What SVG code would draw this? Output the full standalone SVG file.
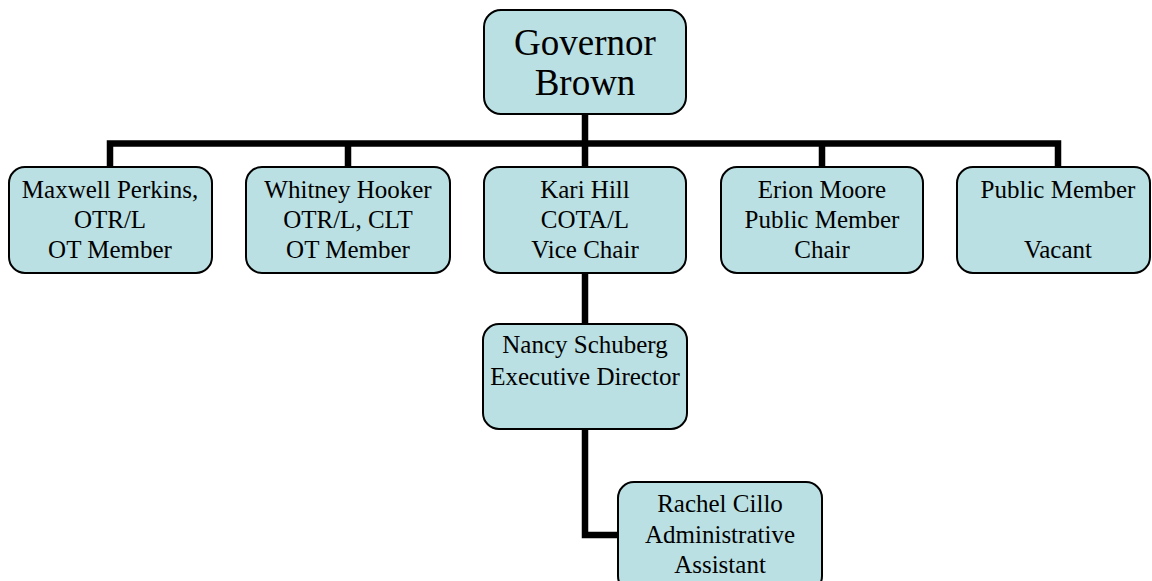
<svg xmlns="http://www.w3.org/2000/svg" width="1152" height="581" viewBox="0 0 1152 581">
<style>
.box{fill:#BAE0E3;stroke:#000;stroke-width:2}
.t{font-family:"Liberation Serif","Times New Roman",serif;font-size:25px;fill:#000;text-anchor:middle}
.big{font-size:37px}
.c{fill:none;stroke:#000;stroke-width:6.5}
</style>
<rect width="1152" height="581" fill="#fff"/>
<g id="connectors">
<path class="c" d="M110 170V143.5H1058V170"/>
<path class="c" d="M348 143.5V170M585 113V170M822 143.5V170"/>
<path class="c" d="M585 272V326"/>
<path class="c" d="M585 428V535H620"/>
</g>
<g id="governor">
<rect class="box" x="484" y="10" width="202" height="104" rx="17"/>
<text class="t big" x="585" y="55">Governor</text>
<text class="t big" x="585" y="95">Brown</text>
</g>
<g id="perkins">
<rect class="box" x="9" y="167" width="203" height="106" rx="16"/>
<text class="t" x="110" y="198">Maxwell Perkins,</text>
<text class="t" x="110" y="228">OTR/L</text>
<text class="t" x="110" y="258">OT Member</text>
</g>
<g id="hooker">
<rect class="box" x="246" y="167" width="204" height="106" rx="16"/>
<text class="t" x="348" y="198">Whitney Hooker</text>
<text class="t" x="348" y="228">OTR/L, CLT</text>
<text class="t" x="348" y="258">OT Member</text>
</g>
<g id="hill">
<rect class="box" x="484" y="167" width="202" height="106" rx="16"/>
<text class="t" x="585" y="198">Kari Hill</text>
<text class="t" x="585" y="228">COTA/L</text>
<text class="t" x="585" y="258">Vice Chair</text>
</g>
<g id="moore">
<rect class="box" x="721" y="167" width="202" height="106" rx="16"/>
<text class="t" x="822" y="198">Erion Moore</text>
<text class="t" x="822" y="228">Public Member</text>
<text class="t" x="822" y="258">Chair</text>
</g>
<g id="public">
<rect class="box" x="957" y="167" width="193" height="106" rx="16"/>
<text class="t" x="1058" y="198">Public Member</text>
<text class="t" x="1058" y="258">Vacant</text>
</g>
<g id="schuberg">
<rect class="box" x="483" y="324" width="204" height="105" rx="16"/>
<text class="t" x="585" y="353">Nancy Schuberg</text>
<text class="t" x="585" y="385">Executive Director</text>
</g>
<g id="cillo">
<rect class="box" x="618" y="482" width="204" height="110" rx="16"/>
<text class="t" x="720" y="512">Rachel Cillo</text>
<text class="t" x="720" y="543">Administrative</text>
<text class="t" x="720" y="573">Assistant</text>
</g>
</svg>
